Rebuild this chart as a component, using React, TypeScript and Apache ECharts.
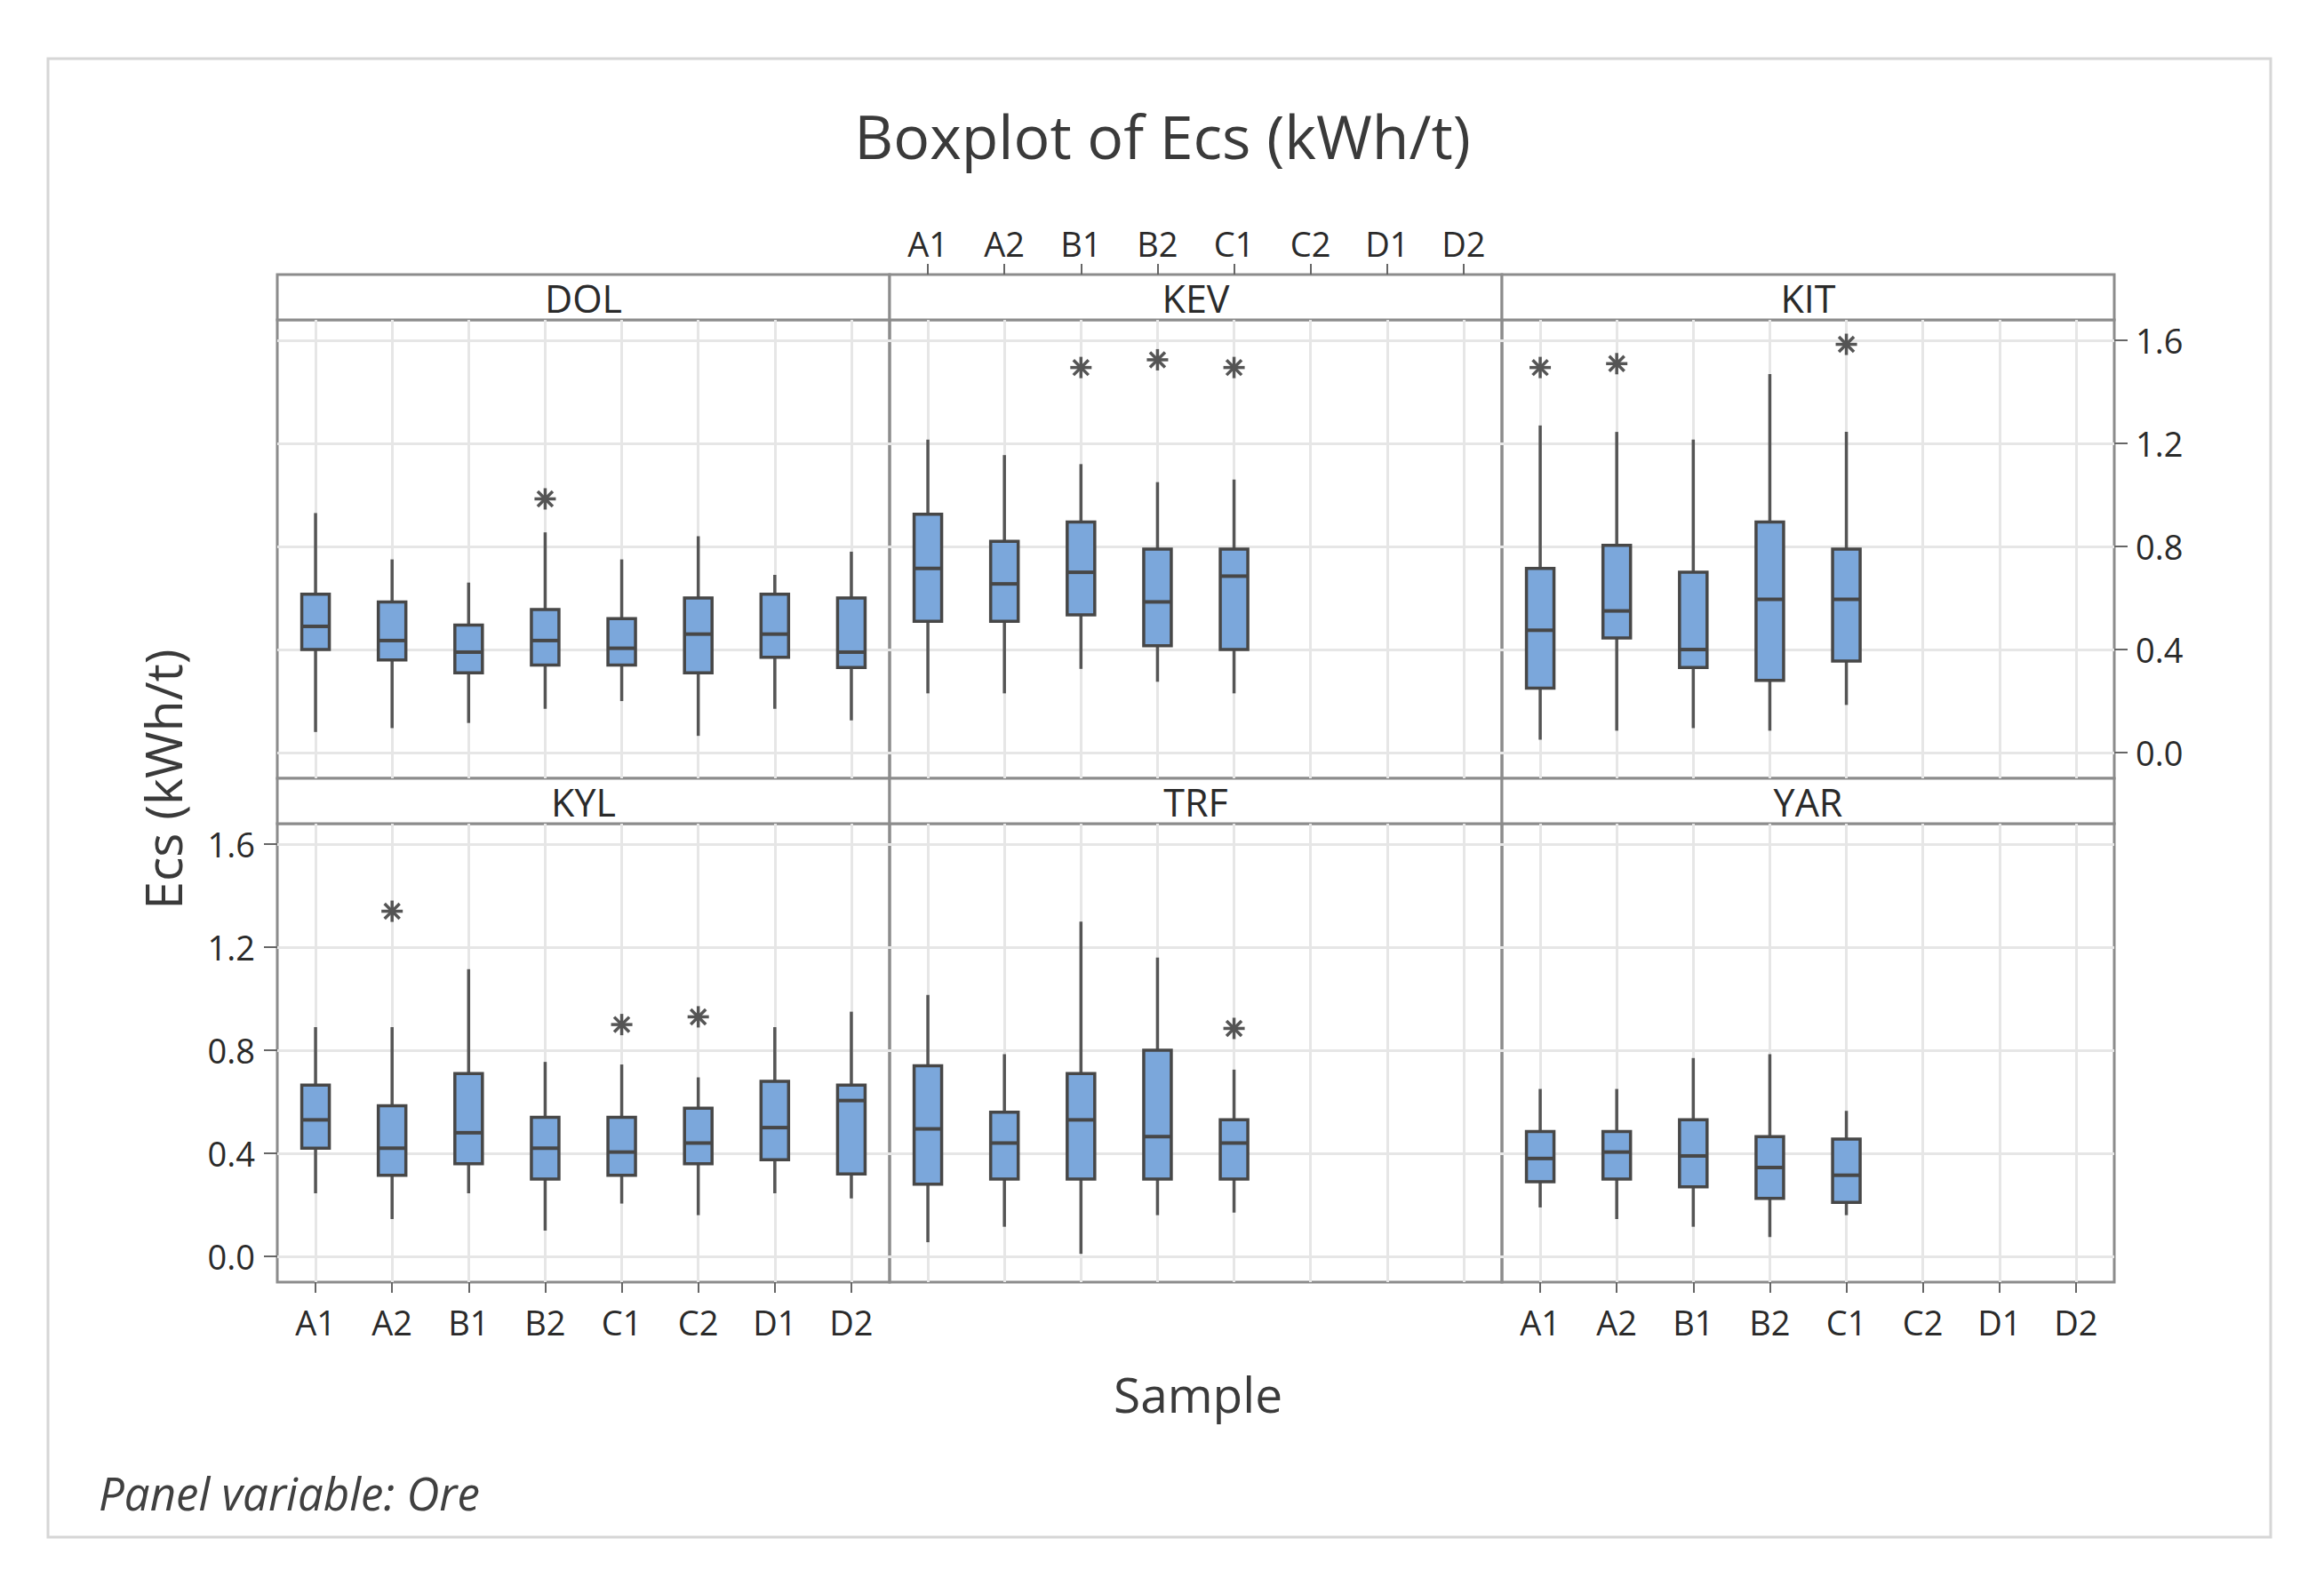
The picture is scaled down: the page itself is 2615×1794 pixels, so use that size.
import React, { useEffect, useRef } from "react";
import * as echarts from "echarts";

const samples = ["A1", "A2", "B1", "B2", "C1", "C2", "D1", "D2"];
const ores = ["DOL", "KEV", "KIT", "KYL", "TRF", "YAR"];
const yTicks = [0, 0.4, 0.8, 1.2, 1.6];

// each box: [low whisker, Q1, median, Q3, high whisker], in sample order
const dolBoxes = [
  [0.08, 0.4, 0.49, 0.615, 0.93],
  [0.095, 0.36, 0.435, 0.585, 0.75],
  [0.115, 0.31, 0.39, 0.495, 0.66],
  [0.17, 0.34, 0.435, 0.555, 0.855],
  [0.2, 0.34, 0.405, 0.52, 0.75],
  [0.065, 0.31, 0.46, 0.6, 0.84],
  [0.17, 0.37, 0.46, 0.615, 0.69],
  [0.125, 0.33, 0.39, 0.6, 0.78],
];
const kevBoxes = [
  [0.23, 0.51, 0.715, 0.925, 1.215],
  [0.23, 0.51, 0.655, 0.82, 1.155],
  [0.325, 0.535, 0.7, 0.895, 1.12],
  [0.275, 0.415, 0.585, 0.79, 1.05],
  [0.23, 0.4, 0.685, 0.79, 1.06],
];
const kitBoxes = [
  [0.05, 0.25, 0.475, 0.715, 1.27],
  [0.085, 0.445, 0.55, 0.805, 1.245],
  [0.095, 0.33, 0.4, 0.7, 1.215],
  [0.085, 0.28, 0.595, 0.895, 1.47],
  [0.185, 0.355, 0.595, 0.79, 1.245],
];
const kylBoxes = [
  [0.245, 0.42, 0.53, 0.665, 0.89],
  [0.145, 0.315, 0.42, 0.585, 0.89],
  [0.245, 0.36, 0.48, 0.71, 1.115],
  [0.1, 0.3, 0.42, 0.54, 0.755],
  [0.205, 0.315, 0.405, 0.54, 0.745],
  [0.16, 0.36, 0.44, 0.575, 0.695],
  [0.245, 0.375, 0.5, 0.68, 0.89],
  [0.225, 0.32, 0.605, 0.665, 0.95],
];
const trfBoxes = [
  [0.055, 0.28, 0.495, 0.74, 1.015],
  [0.115, 0.3, 0.44, 0.56, 0.785],
  [0.01, 0.3, 0.53, 0.71, 1.3],
  [0.16, 0.3, 0.465, 0.8, 1.16],
  [0.17, 0.3, 0.44, 0.53, 0.725],
];
const yarBoxes = [
  [0.19, 0.29, 0.38, 0.485, 0.65],
  [0.145, 0.3, 0.405, 0.485, 0.65],
  [0.115, 0.27, 0.39, 0.53, 0.77],
  [0.075, 0.225, 0.345, 0.465, 0.785],
  [0.16, 0.21, 0.315, 0.455, 0.565],
];

// outliers: [sample, value]
const dolOutliers: [string, number][] = [["B2", 0.985]];
const kevOutliers: [string, number][] = [["B1", 1.495], ["B2", 1.525], ["C1", 1.495]];
const kitOutliers: [string, number][] = [["A1", 1.495], ["A2", 1.51], ["C1", 1.585]];
const kylOutliers: [string, number][] = [["A2", 1.34], ["C1", 0.9], ["C2", 0.93]];
const trfOutliers: [string, number][] = [["C1", 0.885]];
const yarOutliers: [string, number][] = [];

const allBoxes = [dolBoxes, kevBoxes, kitBoxes, kylBoxes, trfBoxes, yarBoxes];
const allOutliers = [dolOutliers, kevOutliers, kitOutliers, kylOutliers, trfOutliers, yarOutliers];

const FONT = "'Open Sans', 'Noto Sans', sans-serif";
const TEXT = "#2a2a2a";
const BORDER = "#8c8c8c";
const GRIDC = "#e6e6e6";
const BOXFILL = "#7ba7db";
const BOXLINE = "#474747";

const colLeft = [312, 1001, 1690];
const colW = 689;
const rowTop = [360, 927];
const plotH = 516;
const stripH = 51;

export default function App() {
  const ref = useRef<HTMLDivElement>(null);
  useEffect(() => {
    if (!ref.current) return;
    const chart = echarts.init(ref.current, null, { renderer: "svg" });

    const grids: any[] = [];
    const xAxes: any[] = [];
    const yAxes: any[] = [];
    const series: any[] = [];
    const graphics: any[] = [];

    ores.forEach((ore, i) => {
      const r = Math.floor(i / 3);
      const c = i % 3;
      const left = colLeft[c];
      const top = rowTop[r];
      grids.push({
        left, top, width: colW, height: plotH,
        show: true, borderColor: BORDER, borderWidth: 3, backgroundColor: "transparent",
      });
      const showTopX = ore === "KEV";
      const showBottomX = ore === "KYL" || ore === "YAR";
      const showX = showTopX || showBottomX;
      xAxes.push({
        type: "value", gridIndex: i, min: -0.5, max: 7.5,
        position: showTopX ? "top" : "bottom",
        offset: showTopX ? stripH : 0,
        axisLine: { show: false, onZero: false },
        axisTick: {
          show: showX, length: 12, customValues: [0, 1, 2, 3, 4, 5, 6, 7],
          lineStyle: { color: "#666666", width: 2 },
        },
        axisLabel: {
          show: showX, customValues: [0, 1, 2, 3, 4, 5, 6, 7],
          formatter: (v: number) => samples[Math.round(v)] || "",
          color: TEXT, fontFamily: FONT, fontSize: 38, margin: showTopX ? 16 : 26,
        },
        splitLine: { show: true, lineStyle: { color: GRIDC, width: 3 } },
      });
      const showLeftY = ore === "KYL";
      const showRightY = ore === "KIT";
      const showY = showLeftY || showRightY;
      yAxes.push({
        type: "value", gridIndex: i, min: -0.1, max: 1.68,
        position: showRightY ? "right" : "left",
        axisLine: { show: false, onZero: false },
        axisTick: {
          show: showY, length: 15, customValues: yTicks,
          lineStyle: { color: "#666666", width: 2 },
        },
        axisLabel: {
          show: showY, customValues: yTicks,
          formatter: (v: number) => v.toFixed(1),
          color: TEXT, fontFamily: FONT, fontSize: 38, margin: showRightY ? 24 : 25,
        },
        splitLine: { show: true, lineStyle: { color: GRIDC, width: 3 } },
      });

      series.push({
        type: "custom", name: ore + " boxes", xAxisIndex: i, yAxisIndex: i,
        data: allBoxes[i].map((b, k) => [k, ...b]),
        encode: { x: 0, y: [1, 2, 3, 4, 5] },
        clip: true,
        renderItem: (_p: any, api: any) => {
          const x = api.value(0);
          const lo = api.coord([x, api.value(1)]);
          const q1 = api.coord([x, api.value(2)]);
          const md = api.coord([x, api.value(3)]);
          const q3 = api.coord([x, api.value(4)]);
          const hi = api.coord([x, api.value(5)]);
          const w = 31;
          const cx = lo[0];
          const ls = { stroke: "#555555", lineWidth: 3.5 };
          return {
            type: "group",
            children: [
              { type: "line", shape: { x1: cx, y1: lo[1], x2: cx, y2: q1[1] }, style: ls },
              { type: "line", shape: { x1: cx, y1: q3[1], x2: cx, y2: hi[1] }, style: ls },
              {
                type: "rect",
                shape: { x: cx - w / 2, y: q3[1], width: w, height: q1[1] - q3[1] },
                style: { fill: BOXFILL, stroke: BOXLINE, lineWidth: 3.5 },
              },
              { type: "line", shape: { x1: cx - w / 2, y1: md[1], x2: cx + w / 2, y2: md[1] }, style: { stroke: BOXLINE, lineWidth: 4 } },
            ],
          };
        },
      });

      series.push({
        type: "custom", name: ore + " outliers", xAxisIndex: i, yAxisIndex: i,
        data: allOutliers[i].map(([s, v]) => [samples.indexOf(s), v]),
        encode: { x: 0, y: 1 },
        renderItem: (_p: any, api: any) => {
          const p = api.coord([api.value(0), api.value(1)]);
          const rr = 12;
          const d = rr * 0.7071;
          const st = { stroke: "#555555", lineWidth: 3.5 };
          return {
            type: "group",
            children: [
              { type: "line", shape: { x1: p[0] - rr, y1: p[1], x2: p[0] + rr, y2: p[1] }, style: st },
              { type: "line", shape: { x1: p[0], y1: p[1] - rr, x2: p[0], y2: p[1] + rr }, style: st },
              { type: "line", shape: { x1: p[0] - d, y1: p[1] - d, x2: p[0] + d, y2: p[1] + d }, style: st },
              { type: "line", shape: { x1: p[0] - d, y1: p[1] + d, x2: p[0] + d, y2: p[1] - d }, style: st },
            ],
          };
        },
      });

      // strip header
      graphics.push({
        type: "rect",
        shape: { x: left, y: top - stripH, width: colW, height: stripH },
        style: { fill: "#ffffff", stroke: BORDER, lineWidth: 3 },
      });
      graphics.push({
        type: "text",
        x: left + colW / 2, y: top - stripH / 2 + 1,
        style: {
          text: ore, fill: TEXT, font: `43px ${FONT}`,
          textAlign: "center", textVerticalAlign: "middle",
        },
      });
    });

    graphics.unshift({
      type: "rect",
      shape: { x: 54, y: 66, width: 2501, height: 1664 },
      style: { fill: "#ffffff", stroke: "#d6d6d6", lineWidth: 3 },
      z: -10,
    });
    graphics.push({
      type: "text", x: 1308, y: 152,
      style: {
        text: "Boxplot of Ecs (kWh/t)", fill: "#3a3a3a", font: `68px ${FONT}`,
        textAlign: "center", textVerticalAlign: "middle",
      },
    });
    graphics.push({
      type: "text", x: 1348, y: 1568,
      style: {
        text: "Sample", fill: "#3a3a3a", font: `55px ${FONT}`,
        textAlign: "center", textVerticalAlign: "middle",
      },
    });
    graphics.push({
      type: "text", x: 183, y: 877, rotation: Math.PI / 2,
      style: {
        text: "Ecs (kWh/t)", fill: "#3a3a3a", font: `57px ${FONT}`,
        textAlign: "center", textVerticalAlign: "middle",
      },
    });
    graphics.push({
      type: "text", x: 111, y: 1680,
      style: {
        text: "Panel variable: Ore", fill: "#404040", font: `italic 51px ${FONT}`,
        textAlign: "left", textVerticalAlign: "middle",
      },
    });

    chart.setOption({
      animation: false,
      backgroundColor: "#ffffff",
      grid: grids,
      xAxis: xAxes,
      yAxis: yAxes,
      series,
      graphic: { elements: graphics },
    });
    return () => chart.dispose();
  }, []);

  return (
    <div
      ref={ref}
      style={{ position: "absolute", left: 0, top: 0, width: "2615px", height: "1794px" }}
    />
  );
}
